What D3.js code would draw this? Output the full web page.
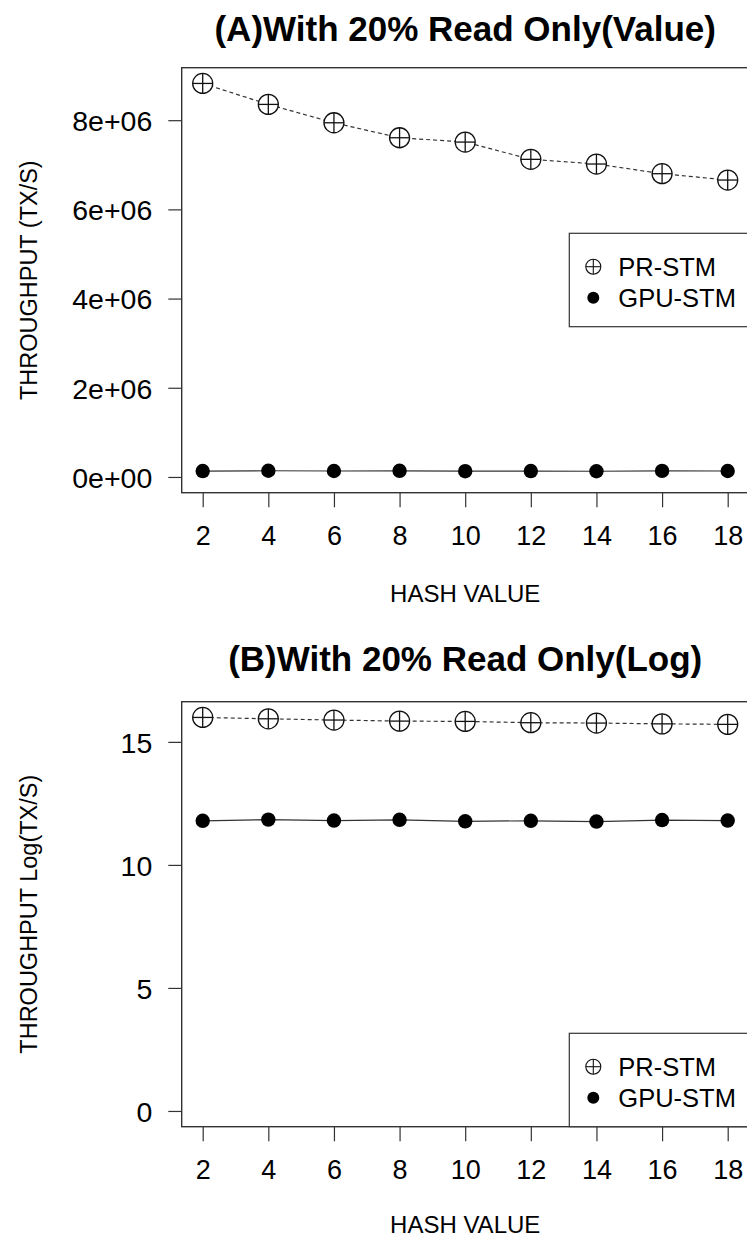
<!DOCTYPE html>
<html>
<head>
<meta charset="utf-8">
<script src="https://cdn.jsdelivr.net/npm/d3@7"></script>
<style>
  html, body { margin: 0; padding: 0; background: #fff; }
  svg { display: block; }
  text { font-family: "Liberation Sans", Arial, Helvetica, sans-serif; fill: #000; }
</style>
</head>
<body>
<svg id="chart" width="747" height="1241"></svg>
<script>
// Hash values on the x axis
const hashValues = [2, 4, 6, 8, 10, 12, 14, 16, 18];
// Throughput (transactions per second)
const prStm  = [8824000, 8354000, 7942000, 7606000, 7509000, 7122000, 7017000, 6800000, 6658000];
const gpuStm = [132200, 138900, 133600, 137600, 129600, 132200, 128300, 136200, 133600];

const seriesNames = ["PR-STM", "GPU-STM"];
const valueTicks = [0, 2e6, 4e6, 6e6, 8e6];
const valueTickLabels = ["0e+00", "2e+06", "4e+06", "6e+06", "8e+06"];
const logTicks = [0, 5, 10, 15];
const logTickLabels = ["0", "5", "10", "15"];

const svg = d3.select("#chart");
const INK = "#111";

// R-style axis range: data range extended by 4% on each side
function extend(lo, hi) { const p = (hi - lo) * 0.04; return [lo - p, hi + p]; }

function crossCircle(g, cx, cy, r, sw) {
  g.append("circle").attr("cx", cx).attr("cy", cy).attr("r", r)
    .attr("fill", "#fff").attr("stroke", INK).attr("stroke-width", sw);
  g.append("line").attr("x1", cx - r).attr("x2", cx + r).attr("y1", cy).attr("y2", cy)
    .attr("stroke", INK).attr("stroke-width", sw);
  g.append("line").attr("x1", cx).attr("x2", cx).attr("y1", cy - r).attr("y2", cy + r)
    .attr("stroke", INK).attr("stroke-width", sw);
}

function panel(opt) {
  const { top, bottom, title, titleY, yLabel, pr, gpu, ticks, tickLabels, legendTop, xLabelY } = opt;
  const left = 181.7, right = 748.7;
  const g = svg.append("g");

  const x = d3.scaleLinear().domain(extend(2, 18)).range([left, right]);
  const y = d3.scaleLinear().domain(extend(0, d3.max(pr))).range([bottom, top]);

  // title
  g.append("text").attr("x", (left + right) / 2).attr("y", titleY)
    .attr("text-anchor", "middle").attr("font-size", 35).attr("font-weight", "bold")
    .text(title);

  // lines
  const line = d3.line().x((d, i) => x(hashValues[i])).y(d => y(d));
  g.append("path").datum(pr).attr("d", line).attr("fill", "none")
    .attr("stroke", "#333").attr("stroke-width", 1.2).attr("stroke-dasharray", "4,3");
  g.append("path").datum(gpu).attr("d", line).attr("fill", "none")
    .attr("stroke", "#333").attr("stroke-width", 1.2);

  // points
  const pts = g.append("g");
  pr.forEach((v, i) => crossCircle(pts, x(hashValues[i]), y(v), 10, 1.3));
  pts.selectAll("circle.gpu").data(gpu).enter().append("circle").attr("class", "gpu")
    .attr("cx", (d, i) => x(hashValues[i])).attr("cy", d => y(d)).attr("r", 7.2)
    .attr("fill", "#000");

  // x axis
  const xAxis = g.append("g").attr("transform", `translate(0,${bottom})`)
    .call(d3.axisBottom(x).tickValues(hashValues).tickSize(14.6).tickPadding(6).tickFormat(d3.format("d")));
  xAxis.select(".domain").remove();
  xAxis.selectAll(".tick line").attr("stroke", "#333").attr("stroke-width", 1.2);
  xAxis.selectAll(".tick text").attr("font-size", 27).attr("font-family", null)
    .attr("fill", "#000").attr("dy", null).attr("y", 52);

  // y axis
  const yAxis = g.append("g").attr("transform", `translate(${left},0)`)
    .call(d3.axisLeft(y).tickValues(ticks).tickSize(13.4).tickPadding(16)
      .tickFormat((d, i) => tickLabels[i]));
  yAxis.select(".domain").remove();
  yAxis.selectAll(".tick line").attr("stroke", "#333").attr("stroke-width", 1.2);
  yAxis.selectAll(".tick text").attr("font-size", 28.5).attr("font-family", null)
    .attr("fill", "#000").attr("dy", "0.36em");

  // frame
  g.append("rect").attr("x", left).attr("y", top).attr("width", right - left).attr("height", bottom - top)
    .attr("fill", "none").attr("stroke", "#333").attr("stroke-width", 1.4);

  // axis titles
  g.append("text").attr("x", (left + right) / 2).attr("y", xLabelY)
    .attr("text-anchor", "middle").attr("font-size", 24).text("HASH VALUE");
  g.append("text").attr("transform", `translate(37,${(top + bottom) / 2}) rotate(-90)`)
    .attr("text-anchor", "middle").attr("font-size", 23.5).text(yLabel);

  // legend
  const lw = 179.4, lh = 93.4, lx = right - lw;
  const lg = g.append("g");
  lg.append("rect").attr("x", lx).attr("y", legendTop).attr("width", lw).attr("height", lh)
    .attr("fill", "#fff").attr("stroke", "#333").attr("stroke-width", 1.2);
  crossCircle(lg, lx + 24, legendTop + 33.4, 7.5, 1.1);
  lg.append("circle").attr("cx", lx + 24).attr("cy", legendTop + 64.4).attr("r", 6).attr("fill", "#000");
  seriesNames.forEach((s, i) => {
    lg.append("text").attr("x", lx + 49).attr("y", legendTop + 33.4 + i * 31)
      .attr("dy", "0.36em").attr("font-size", 25.5).text(s);
  });
}

panel({
  top: 67.7, bottom: 492.7, title: "(A)With 20% Read Only(Value)", titleY: 41,
  yLabel: "THROUGHPUT (TX/S)", pr: prStm, gpu: gpuStm,
  ticks: valueTicks, tickLabels: valueTickLabels, legendTop: 233.3, xLabelY: 602
});

panel({
  top: 701.7, bottom: 1126.7, title: "(B)With 20% Read Only(Log)", titleY: 671,
  yLabel: "THROUGHPUT Log(TX/S)", pr: prStm.map(Math.log), gpu: gpuStm.map(Math.log),
  ticks: logTicks, tickLabels: logTickLabels, legendTop: 1126.7 - 93.4, xLabelY: 1233
});
</script>
</body>
</html>
